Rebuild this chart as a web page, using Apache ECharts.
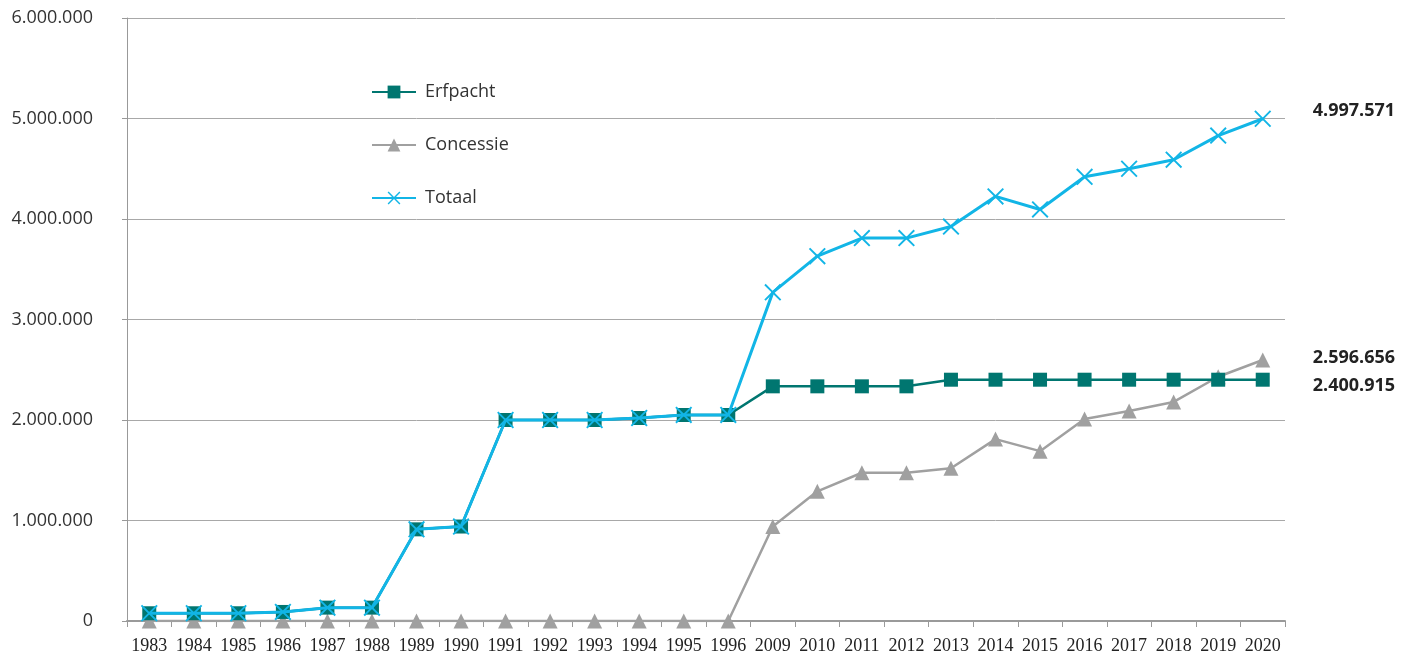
<!DOCTYPE html>
<html>
<head>
<meta charset="utf-8">
<script src="https://cdn.jsdelivr.net/npm/echarts@6/dist/echarts.min.js"></script>
<style>
  html, body { margin: 0; padding: 0; background: #fff; }
</style>
</head>
<body>
<div id="chart" style="width: 1419px; height: 657px;"></div>
<script>
  const years = ['1983', '1984', '1985', '1986', '1987', '1988', '1989', '1990', '1991', '1992', '1993', '1994', '1995', '1996',
    '2009', '2010', '2011', '2012', '2013', '2014', '2015', '2016', '2017', '2018', '2019', '2020'];

  const erfpacht = [77000, 77000, 77000, 90000, 133000, 133000, 912000, 940000, 2000000, 2000000, 2000000, 2020000, 2050000, 2050000,
    2335000, 2335000, 2335000, 2335000, 2400915, 2400915, 2400915, 2400915, 2400915, 2400915, 2400915, 2400915];

  const concessie = [0, 0, 0, 0, 0, 0, 0, 0, 0, 0, 0, 0, 0, 0,
    940000, 1290000, 1475000, 1475000, 1520000, 1810000, 1690000, 2010000, 2090000, 2180000, 2430000, 2596656];

  const totaal = [77000, 77000, 77000, 90000, 133000, 133000, 912000, 940000, 2000000, 2000000, 2000000, 2020000, 2050000, 2050000,
    3270000, 3630000, 3810000, 3810000, 3925000, 4225000, 4095000, 4420000, 4500000, 4590000, 4830000, 4997571];

  const fmt = v => String(v).replace(/\B(?=(\d{3})+(?!\d))/g, '.');
  const crossPath = 'path://M0,0.8L0.8,0L5,4.2L9.2,0L10,0.8L5.8,5L10,9.2L9.2,10L5,5.8L0.8,10L0,9.2L4.2,5Z';

  const myChart = echarts.init(document.getElementById('chart'));

  const endLabel = (dy) => ({
    show: true,
    formatter: p => fmt(p.value),
    distance: 50,
    offset: [0, dy],
    fontFamily: 'Open Sans',
    fontWeight: 'bold',
    fontSize: 18,
    color: '#222'
  });

  const option = {
    animation: false,
    grid: {
      left: 127,
      right: 134,
      top: 18,
      bottom: 36
    },
    legend: {
      orient: 'vertical',
      left: 366,
      top: 78,
      itemWidth: 44,
      itemHeight: 16,
      itemGap: 35,
      textStyle: {
        fontFamily: 'Open Sans',
        fontSize: 18,
        color: '#333',
        padding: [0, 0, 0, 4]
      },
      data: ['Erfpacht', 'Concessie', 'Totaal']
    },
    xAxis: {
      type: 'category',
      data: years,
      boundaryGap: true,
      axisLine: { lineStyle: { color: '#9a9a9a', width: 2 } },
      axisTick: { show: true, length: 6, lineStyle: { color: '#9a9a9a' } },
      axisLabel: {
        fontFamily: 'Liberation Serif',
        fontSize: 18,
        color: '#222',
        margin: 16,
        interval: 0
      }
    },
    yAxis: {
      type: 'value',
      min: 0,
      max: 6000000,
      interval: 1000000,
      axisLine: { show: true, lineStyle: { color: '#999' } },
      axisTick: { show: true, length: 5, lineStyle: { color: '#999' } },
      splitLine: { lineStyle: { color: '#a8a8a8' } },
      axisLabel: {
        formatter: fmt,
        fontFamily: 'Open Sans',
        fontSize: 18,
        color: '#333',
        margin: 34
      }
    },
    series: [
      {
        name: 'Erfpacht',
        type: 'line',
        data: erfpacht,
        symbol: 'rect',
        symbolSize: 14,
        z: 3,
        lineStyle: { color: '#007670', width: 2.5 },
        itemStyle: { color: '#007670' },
        endLabel: endLabel(6)
      },
      {
        name: 'Concessie',
        type: 'line',
        data: concessie,
        symbol: 'triangle',
        symbolSize: 15,
        z: 2,
        lineStyle: { color: '#a0a0a0', width: 2.5 },
        itemStyle: { color: '#a0a0a0' },
        endLabel: endLabel(-2)
      },
      {
        name: 'Totaal',
        type: 'line',
        data: totaal,
        symbol: crossPath,
        symbolSize: 17,
        z: 4,
        lineStyle: { color: '#12b5e6', width: 3 },
        itemStyle: { color: '#12b5e6' },
        endLabel: endLabel(-8)
      }
    ]
  };

  myChart.setOption(option);
</script>
</body>
</html>
